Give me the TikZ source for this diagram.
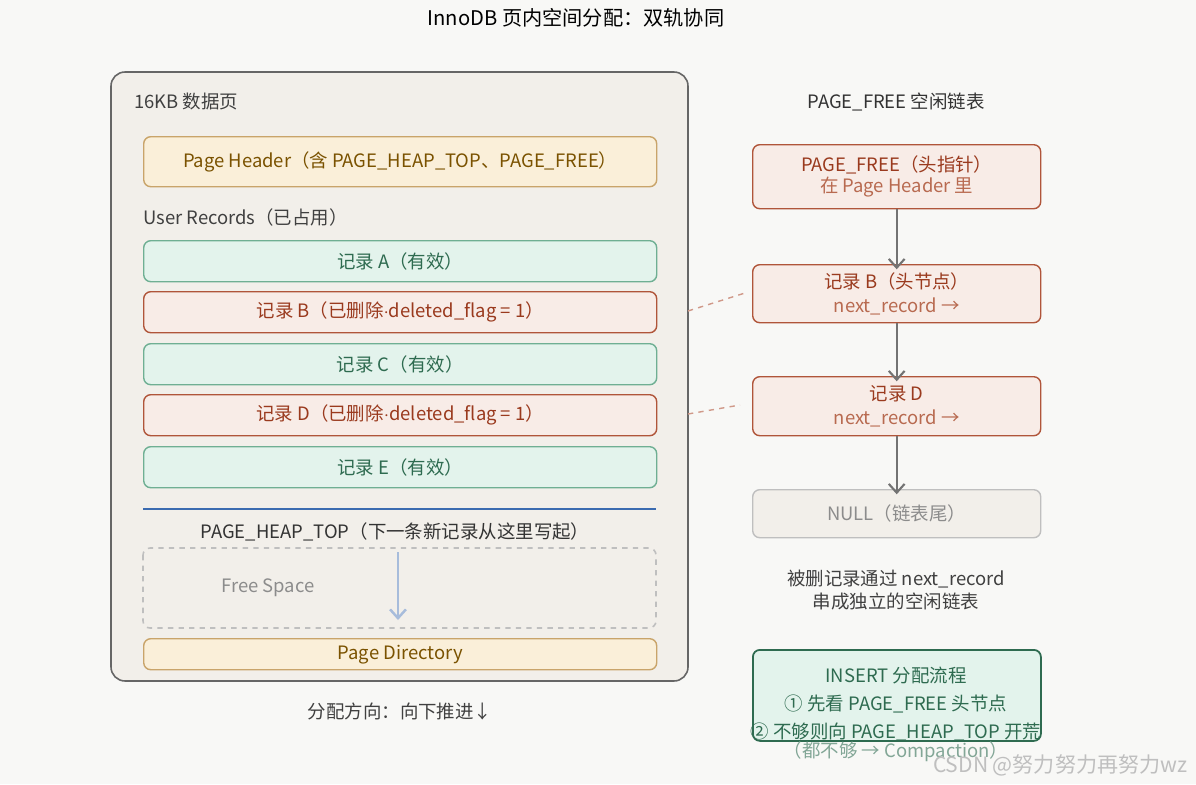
\documentclass[tikz,border=0pt]{standalone}
\usepackage{fontspec}
\setmainfont{Noto Sans CJK SC}
\usetikzlibrary{arrows.meta}

\definecolor{bgcol}{HTML}{F8F8F6}
\definecolor{pagecol}{HTML}{F2EFEA}
\definecolor{hdrfill}{HTML}{FAEFD9}
\definecolor{hdrdraw}{HTML}{C9A46A}
\definecolor{hdrtext}{HTML}{7A5200}
\definecolor{okfill}{HTML}{E3F3EC}
\definecolor{okdraw}{HTML}{6FAF93}
\definecolor{oktext}{HTML}{2E6B50}
\definecolor{delfill}{HTML}{F8ECE7}
\definecolor{deldraw}{HTML}{B0553A}
\definecolor{deltext}{HTML}{9A3A1E}
\definecolor{dellight}{HTML}{B86A50}
\definecolor{heapcol}{HTML}{3B6BB0}

\tikzset{
	box/.style={rounded corners=4pt, line width=0.8pt, minimum height=#1, anchor=north west, align=center, font=\fontsize{10.5}{13}\selectfont},
	hdr/.style={box=#1, fill=hdrfill, draw=hdrdraw, text=hdrtext},
	ok/.style={box=#1, fill=okfill, draw=okdraw, text=oktext},
	del/.style={box=#1, fill=delfill, draw=deldraw, text=deltext},
	link/.style={-{Straight Barb[length=5pt,width=9pt]}, draw=black!55, line width=1.2pt},
}

\begin{document}
\begin{tikzpicture}[x=0.02cm, y=-0.02cm, font=\fontsize{10.5}{13}\selectfont]
	\fill[bgcol] (0,0) rectangle (1196,784);
	\useasboundingbox (0,0) rectangle (1196,784);

	\node (title) at (576,18) {\fontsize{11.5}{14}\selectfont InnoDB 页内空间分配：双轨协同};

	% left: the data page
	\draw[rounded corners=8pt, fill=pagecol, draw=black!60, line width=0.9pt] (111,72) rectangle (688,681);
	\node[anchor=west, text=black!75] (pagename) at (128,102) {16KB 数据页};
	\node[hdr=50*0.02cm, minimum width=513*0.02cm] (hdr) at (143,136) {Page Header（含 PAGE\_HEAP\_TOP、PAGE\_FREE）};
	\node[anchor=west, text=black!75] (used) at (137,217) {User Records（已占用）};
	\node[ok=41*0.02cm, minimum width=513*0.02cm] (recA) at (143,240) {记录 A（有效）};
	\node[del=41*0.02cm, minimum width=513*0.02cm] (recB) at (143,291) {记录 B（已删除$\cdot$deleted\_flag = 1）};
	\node[ok=41*0.02cm, minimum width=513*0.02cm] (recC) at (143,343) {记录 C（有效）};
	\node[del=41*0.02cm, minimum width=513*0.02cm] (recD) at (143,394) {记录 D（已删除$\cdot$deleted\_flag = 1）};
	\node[ok=41*0.02cm, minimum width=513*0.02cm] (recE) at (143,446) {记录 E（有效）};

	\coordinate (heapL) at (143,509);
	\coordinate (heapR) at (656,509);
	\draw[heapcol, line width=1.6pt] (heapL) -- (heapR);
	\node[text=black!80] (heap) at (395,532) {PAGE\_HEAP\_TOP（下一条新记录从这里写起）};

	\draw[dashed, draw=black!25, line width=0.9pt, rounded corners=4pt] (143,548) rectangle (656,628);
	\node[text=black!45] (free) at (268,588) {Free Space};
	\coordinate (growA) at (398,552);
	\coordinate (growB) at (398,620);
	\draw[-{Straight Barb[length=5pt,width=9pt]}, draw=heapcol!45, line width=1.4pt] (growA) -- (growB);

	\node[hdr=31*0.02cm, minimum width=513*0.02cm] (dir) at (143,638) {Page Directory};
	\node[text=black!75] (dirn) at (400,711) {\itshape 分配方向：向下推进↓};

	% right: the free list
	\node[text=black!80] (listname) at (896,102) {PAGE\_FREE 空闲链表};
	\node[del=64*0.02cm, minimum width=288*0.02cm] (pf) at (752,144) {PAGE\_FREE（头指针）\\[-1pt] \textcolor{dellight}{在 Page Header 里}};
	\node[del=58*0.02cm, minimum width=288*0.02cm] (fb) at (752,264) {记录 B（头节点）\\[1pt] \textcolor{dellight}{next\_record →}};
	\node[del=59*0.02cm, minimum width=288*0.02cm] (fd) at (752,376) {记录 D\\[1pt] \textcolor{dellight}{next\_record →}};
	\node[box=48*0.02cm, minimum width=288*0.02cm, fill=pagecol, draw=black!25, text=black!45] (null) at (752,489) {NULL（链表尾）};

	\draw[link] (pf) -- ([yshift=-3pt]fb.north);
	\draw[link] (fb) -- ([yshift=-3pt]fd.north);
	\draw[link] (fd) -- ([yshift=-3pt]null.north);

	\coordinate (bL) at (688,311);
	\coordinate (bR) at (745,293);
	\coordinate (dL) at (688,414);
	\coordinate (dR) at (740,405);
	\draw[dashed, draw=deldraw!60, line width=0.8pt] (bL) -- (bR);
	\draw[dashed, draw=deldraw!60, line width=0.8pt] (dL) -- (dR);

	\node[align=center, text=black!75] (note) at (896,590) {被删记录通过 next\_record\\串成独立的空闲链表};

	\node[ok=91*0.02cm, minimum width=288*0.02cm, draw=oktext, line width=1pt] (ins) at (752,649) {};
	\node[text=oktext] (insT) at (896,676) {INSERT 分配流程};
	\node[text=oktext] (ins1) at (896,704) {① 先看 PAGE\_FREE 头节点};
	\node[text=oktext] (ins2) at (896,732) {② 不够则向 PAGE\_HEAP\_TOP 开荒};
	\node[text=oktext!60] (ins3) at (896,752) {（都不够 → Compaction）};

	\node[text=black!25] (mark) at (1060,765) {\fontsize{12}{14}\selectfont CSDN @努力努力再努力wz};
\end{tikzpicture}
\end{document}
